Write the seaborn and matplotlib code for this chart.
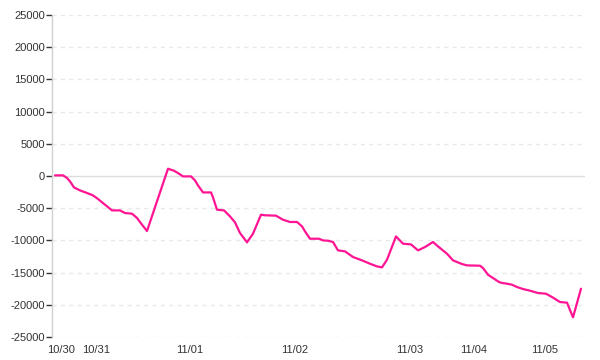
import matplotlib
matplotlib.use("Agg")
import matplotlib.pyplot as plt
import seaborn as sns
import pandas as pd

# bar index (time step) and cumulative P&L values
steps = [0, 8, 12, 15, 19, 25, 32, 38, 43, 50, 57, 65, 70, 77, 82, 87, 92,
         113, 119, 124, 128, 136, 140, 143, 148, 156, 158, 162, 169, 175, 180,
         185, 192, 198, 206, 210, 221, 228, 235, 242, 247, 250, 255, 264, 268,
         273, 278, 283, 290, 298, 307, 315, 322, 327, 332, 341, 348, 356, 363,
         370, 378, 383, 392, 398, 407, 412, 425, 428, 433, 438, 444, 447, 452,
         457, 462, 468, 475, 483, 491, 497, 505, 512, 518, 526]
pnl = [100, 100, -310, -840, -1770, -2240, -2640, -3010, -3570, -4460, -5340,
       -5340, -5750, -5850, -6520, -7560, -8540, 1130, 820, 360, -60, -60,
       -680, -1460, -2550, -2550, -3320, -5230, -5340, -6270, -7200, -8850,
       -10300, -8960, -6010, -6100, -6160, -6790, -7140, -7140, -7820, -8600,
       -9740, -9740, -10000, -10050, -10250, -11550, -11700, -12580, -13100,
       -13620, -14040, -14190, -13000, -9380, -10510, -10620, -11550, -11030,
       -10250, -10930, -12070, -13100, -13670, -13880, -13930, -14290, -15330,
       -15840, -16460, -16610, -16720, -16880, -17240, -17550, -17810, -18170,
       -18280, -18790, -19570, -19670, -21950, -17500]

day_labels = ["10/30", "10/31", "11/01", "11/02", "11/03", "11/04", "11/05"]
day_steps = [6, 41, 135, 240, 355, 419, 490]
y_ticks = list(range(-25000, 25001, 5000))

df = pd.DataFrame({"step": steps, "pnl": pnl})

sns.set_style("white")
plt.rcParams["font.family"] = ["Liberation Sans", "DejaVu Sans"]

fig = plt.figure(figsize=(6, 3.6), dpi=100)
ax = fig.add_axes([52 / 600, 1 - 337 / 360, 533 / 600, 322 / 360])

for v in y_ticks:
    if v == 0:
        ax.axhline(v, color="#dddddd", lw=1.0, zorder=1)
    else:
        ax.axhline(v, color="#e8e8e8", lw=1.0, ls=(0, (3, 3)), zorder=1)

sns.lineplot(data=df, x="step", y="pnl", ax=ax, color="#ff1493", lw=1.6,
             zorder=3)

ax.set_xlim(-3, 530)
ax.set_ylim(-25000, 25000)
ax.set_yticks(y_ticks)
ax.set_yticklabels([str(v) for v in y_ticks])
ax.set_xticks(day_steps)
ax.set_xticklabels(day_labels)
ax.set_xlabel("")
ax.set_ylabel("")

for s in ["top", "right", "bottom"]:
    ax.spines[s].set_visible(False)
ax.spines["left"].set_color("#d0d0d0")
ax.spines["left"].set_linewidth(1.0)

ax.tick_params(axis="y", length=4, width=1, color="#333333", pad=1,
               labelsize=8, labelcolor="#333333", left=True)
ax.tick_params(axis="x", length=0, pad=5.5, labelsize=8,
               labelcolor="#333333")

fig.savefig("out.png", dpi=100)
